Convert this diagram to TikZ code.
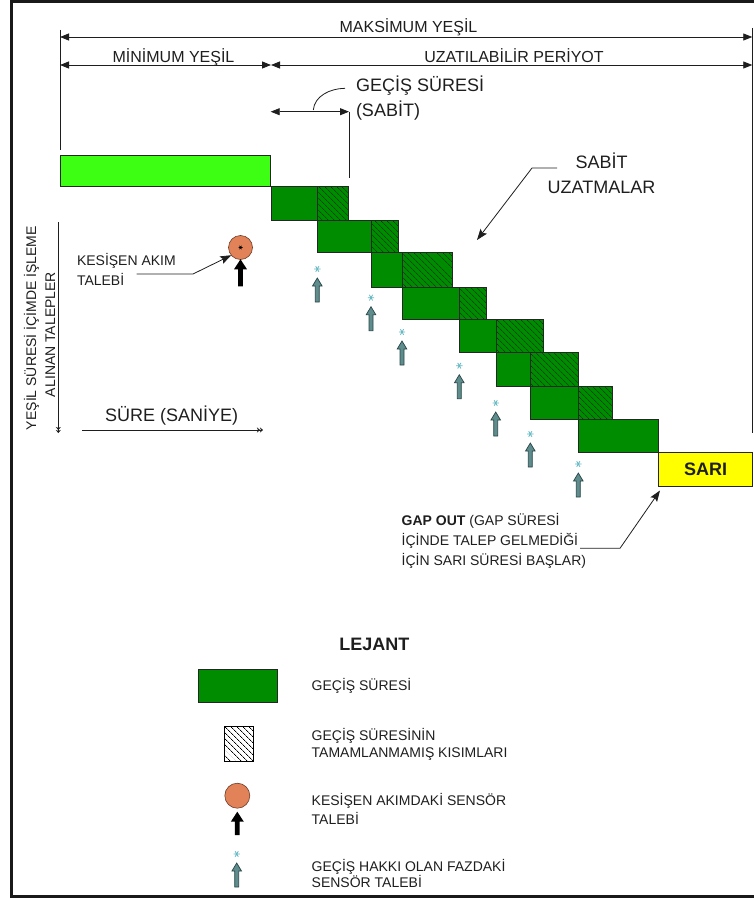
\documentclass[tikz,border=0pt]{standalone}
\usepackage{fontspec}
\setmainfont{Liberation Sans}
\usetikzlibrary{arrows.meta,patterns.meta}
\definecolor{lgreen}{RGB}{60,255,20}
\definecolor{dgreen}{RGB}{0,140,0}
\definecolor{hatchc}{RGB}{0,70,0}
\definecolor{orng}{RGB}{226,130,88}
\definecolor{orngd}{RGB}{110,60,40}
\definecolor{tealf}{RGB}{95,140,140}
\definecolor{teald}{RGB}{40,70,72}
\definecolor{starc}{RGB}{100,185,195}
\definecolor{yell}{RGB}{255,255,0}
\definecolor{txt}{RGB}{30,30,30}
\begin{document}
\begin{tikzpicture}[x=1pt,y=-1pt,
  lbl/.style={inner sep=0pt,outer sep=0pt,text=txt,font=\fontsize{16}{19}\selectfont},
  lblb/.style={inner sep=0pt,outer sep=0pt,text=txt,font=\fontsize{18}{21}\selectfont},
  lbls/.style={inner sep=0pt,outer sep=0pt,text=txt,font=\fontsize{14}{17}\selectfont},
  dimline/.style={draw=txt,line width=0.8pt,arrows={Triangle[length=9pt,width=7pt]-Triangle[length=9pt,width=7pt]}},
  leader/.style={draw=txt,line width=0.8pt,arrows={-Stealth[length=11pt,width=8pt,inset=2pt]}},
  solidblk/.style={draw=black!85,line width=0.8pt,fill=dgreen},
  hatchblk/.style={draw=black!85,line width=0.8pt,preaction={fill=dgreen},pattern={Lines[angle=-45,distance=4pt,line width=0.7pt]},pattern color=hatchc},
  sensor/.pic={
    \draw[starc,line width=0.8pt] (-3.2,0)--(3.2,0) (-1.6,-2.8)--(1.6,2.8) (-1.6,2.8)--(1.6,-2.8);
    \draw[fill=tealf,draw=teald,line width=0.7pt] (0,9) -- (4.8,17) -- (2,17) -- (2,33) -- (-2,33) -- (-2,17) -- (-4.8,17) -- cycle;
  },
  blkarrow/.pic={
    \fill[black] (0,0) -- (6.5,10) -- (2.4,10) -- (2.4,#1) -- (-2.4,#1) -- (-2.4,10) -- (-6.5,10) -- cycle;
  }
]
\useasboundingbox (0,0) rectangle (754,899);
% frame
\draw[line width=3pt,black!90] (770,1.5) -- (11.3,1.5) -- (11.3,896.5) -- (770,896.5);

% extension lines
\coordinate (extL1) at (60,30); \coordinate (extL2) at (60,150);
\draw[txt,line width=0.8pt] (extL1) -- (extL2);
\coordinate (extR1) at (752.3,28); \coordinate (extR2) at (752.3,433);
\draw[txt,line width=0.8pt] (extR1) -- (extR2);

% dimension lines
\coordinate (mx1) at (60,37); \coordinate (mx2) at (752.3,37);
\draw[dimline] (mx1) -- (mx2);
\node[lbl,anchor=base] (maks) at (408.5,32.5) {MAKSİMUM YEŞİL};
\coordinate (mn1) at (60,65); \coordinate (mn2) at (271,65); \coordinate (mn3) at (752.3,65);
\draw[dimline] (mn1) -- (mn2);
\draw[dimline] (mn2) -- (mn3);
\node[lbl,anchor=base] (mini) at (173.5,62.5) {MİNİMUM YEŞİL};
\node[lbl,anchor=base] (uzat) at (514,62.5) {UZATILABİLİR PERİYOT};

% gecis suresi dimension
\coordinate (gd1) at (270.7,111.7); \coordinate (gd2) at (349,111.7); \coordinate (gd3) at (349,178);
\draw[dimline] (gd1) -- (gd2);
\draw[txt,line width=0.8pt] (gd2) -- (gd3);
\node[lblb,anchor=base west] (gs) at (356,91.7) {GEÇİŞ SÜRESİ};
\node[lblb,anchor=base west] (sab) at (356,116) {(SABİT)};
\coordinate (arc1) at (345,88.3); \coordinate (arc2) at (313.3,110);
\draw[txt,line width=0.8pt] (arc1) .. controls (330,88.5) and (314.5,96) .. (arc2);

% light green bar
\draw[draw=black!85,line width=0.8pt,fill=lgreen] (60,155) rectangle (270.7,186.7);

% staircase
\foreach \ya/\yb/\a/\b/\c in {186.7/220/271/317.3/348.7, 220/252.3/317.3/371/398.7, 252.3/287/371/402.7/452.7, 287/319.3/402.7/459.3/486.7, 319.3/352.7/459.3/496/543.3, 352.7/386.7/496/530.7/578.7, 386.7/419/530.7/578.7/612.3}
{
  \draw[solidblk] (\a,\ya) rectangle (\b,\yb);
  \draw[hatchblk] (\b,\ya) rectangle (\c,\yb);
}
\draw[solidblk] (578.7,419) rectangle (658.7,452.7);
\node[draw=black!85,line width=0.8pt,fill=yell,minimum width=94pt,minimum height=33.3pt,inner sep=0pt,outer sep=0pt,text=txt,font=\fontsize{18}{21}\selectfont\bfseries] (sari) at (705.7,469.35) {SARI};

% sensor requests on the green phase
\foreach \sx/\sy in {317.3/269, 371/297.7, 402/332, 459.3/365.7, 495.7/403, 530.3/434, 578.3/464}
  \pic at (\sx,\sy) {sensor};

% conflicting request
\node[circle,draw=orngd,line width=0.6pt,fill=orng,minimum size=24pt,inner sep=0pt,outer sep=0pt] (cur) at (240.5,247.5) {};
\draw[black,line width=0.6pt] (238.5,247.5)--(242.5,247.5) (239.5,245.8)--(241.5,249.2) (239.5,249.2)--(241.5,245.8);
\pic at (240.5,259.3) {blkarrow=27};
\node[lbls,anchor=base west] (kes1) at (77,265) {KESİŞEN AKIM};
\node[lbls,anchor=base west] (kes2) at (77,285) {TALEBİ};
\coordinate (k1) at (136.7,274); \coordinate (k2) at (193,274);
\draw[leader] (k1) -- (k2) -- (cur.220);

% sabit uzatmalar
\node[lblb,anchor=base] (sabit) at (601.5,168.3) {SABİT};
\node[lblb,anchor=base] (uzatm) at (601.5,193.3) {UZATMALAR};
\coordinate (s1) at (557,168); \coordinate (s2) at (532,168); \coordinate (s3) at (477,240);
\draw[leader] (s1) -- (s2) -- (s3);

% left axis labels
\node[lbls,rotate=90,anchor=base west] (ax1) at (36,430) {YEŞİL SÜRESİ İÇİMDE İŞLEME};
\node[lbls,rotate=90,anchor=base west] (ax2) at (55,397) {ALINAN TALEPLER};
\coordinate (va1) at (58.3,222); \coordinate (va2) at (58.3,433);
\draw[txt,line width=0.8pt,arrows={-Stealth[length=3pt,width=5pt]Stealth[length=3pt,width=5pt]}] (va1) -- (va2);
\coordinate (ha1) at (82,430); \coordinate (ha2) at (263,430);
\draw[txt,line width=0.8pt,arrows={-Stealth[length=3pt,width=5pt]Stealth[length=3pt,width=5pt]}] (ha1) -- (ha2);
\node[lblb,anchor=base] (sure) at (171.7,421) {SÜRE (SANİYE)};

% gap out
\node[lbls,anchor=base west] (gap1) at (401.7,525) {\textbf{GAP OUT} (GAP SÜRESİ};
\node[lbls,anchor=base west] (gap2) at (401.7,545) {İÇİNDE TALEP GELMEDİĞİ};
\node[lbls,anchor=base west] (gap3) at (401.7,565) {İÇİN SARI SÜRESİ BAŞLAR)};
\coordinate (g1) at (580,548.3); \coordinate (g2) at (620,548.3); \coordinate (g3) at (660,490.5);
\draw[leader] (g1) -- (g2) -- (g3);

% legend
\node[lblb,anchor=base,font=\fontsize{18}{21}\selectfont\bfseries] (lej) at (374.3,650) {LEJANT};
\draw[solidblk] (198,669) rectangle (277.7,702);
\node[lbls,anchor=base west] (lt1) at (311.7,690) {GEÇİŞ SÜRESİ};
\draw[draw=black,line width=0.8pt,pattern={Lines[angle=-45,distance=4pt,line width=0.7pt]},pattern color=black] (224,726) rectangle (253,761);
\node[lbls,anchor=base west] (lt2) at (311.7,740) {GEÇİŞ SÜRESİNİN};
\node[lbls,anchor=base west] (lt3) at (311.7,757) {TAMAMLANMAMIŞ KISIMLARI};
\node[circle,draw=orngd,line width=0.6pt,fill=orng,minimum size=25pt,inner sep=0pt,outer sep=0pt] (lcirc) at (237.3,795.7) {};
\pic at (237.3,811.7) {blkarrow=23.5};
\node[lbls,anchor=base west] (lt4) at (311.7,805) {KESİŞEN AKIMDAKİ SENSÖR};
\node[lbls,anchor=base west] (lt5) at (311.7,824) {TALEBİ};
\pic at (236.7,854) {sensor};
\node[lbls,anchor=base west] (lt6) at (311.7,871.7) {GEÇİŞ HAKKI OLAN FAZDAKİ};
\node[lbls,anchor=base west] (lt7) at (311.7,887) {SENSÖR TALEBİ};
\end{tikzpicture}
\end{document}
